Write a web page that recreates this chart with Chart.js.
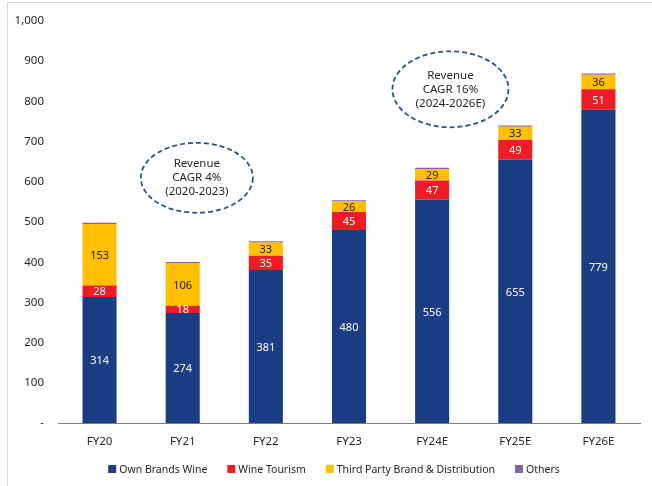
<!DOCTYPE html>
<html>
<head>
<meta charset="utf-8">
<script src="https://cdn.jsdelivr.net/npm/chart.js@4.4.1/dist/chart.umd.min.js"></script>
<style>
  html, body { margin: 0; padding: 0; background: #fff; }
  #wrap { position: relative; width: 652px; height: 486px; }
  #frame { position: absolute; left: 7px; top: 2px; right: -2px; bottom: -2px;
           border-left: 1px solid #d9d9d9; border-top: 1px solid #d9d9d9; }
  canvas { position: absolute; left: 0; top: 0; }
</style>
</head>
<body>
<div id="wrap">
  <div id="frame"></div>
  <canvas id="chart" width="652" height="486"></canvas>
</div>
<script>
// --- data ---
const years       = ['FY20', 'FY21', 'FY22', 'FY23', 'FY24E', 'FY25E', 'FY26E'];
const ownBrands   = [314, 274, 381, 480, 556, 655, 779];
const wineTourism = [28, 18, 35, 45, 47, 49, 51];
const thirdParty  = [153, 106, 33, 26, 29, 33, 36];
const others      = [3, 3, 3, 3, 3, 3, 3];
const yTicks      = [0, 100, 200, 300, 400, 500, 600, 700, 800, 900, 1000];

const FONT = '"Noto Sans", "Open Sans", sans-serif';
Chart.defaults.font.family = FONT;
Chart.defaults.color = '#262626';

// value labels in the middle of each segment
const segLabels = {
  id: 'segLabels',
  afterDatasetsDraw(chart) {
    const ctx = chart.ctx;
    ctx.save();
    ctx.font = '11px ' + FONT;
    ctx.textAlign = 'center';
    ctx.textBaseline = 'middle';
    chart.data.datasets.forEach((ds, di) => {
      if (!ds.showLabel) return;
      chart.getDatasetMeta(di).data.forEach((bar, i) => {
        const { x, y, base } = bar.getProps(['x', 'y', 'base'], true);
        ctx.fillStyle = ds.labelColor;
        ctx.fillText(ds.data[i], x, (y + base) / 2 + 1);
      });
    });
    ctx.restore();
  }
};

// dashed CAGR ellipses, placed in data coordinates
const cagrBubbles = {
  id: 'cagrBubbles',
  afterDraw(chart, args, opts) {
    const ctx = chart.ctx;
    const xs = chart.scales.x, ys = chart.scales.y;
    ctx.save();
    opts.items.forEach(it => {
      const cx = xs.getPixelForValue(it.x);
      const cy = ys.getPixelForValue(it.y);
      ctx.beginPath();
      ctx.setLineDash([5, 3]);
      ctx.lineWidth = 1.8;
      ctx.strokeStyle = '#2f5283';
      ctx.ellipse(cx, cy, it.rx, it.ry, 0, 0, Math.PI * 2);
      ctx.stroke();
      ctx.setLineDash([]);
      ctx.fillStyle = '#262626';
      ctx.font = '11.5px ' + FONT;
      ctx.textAlign = 'center';
      ctx.textBaseline = 'middle';
      it.lines.forEach((t, k) => ctx.fillText(t, cx, cy + (k - 1) * 14));
    });
    ctx.restore();
  }
};

// compact legend along the bottom
const bottomLegend = {
  id: 'bottomLegend',
  afterDraw(chart, args, opts) {
    const ctx = chart.ctx;
    const ds = chart.data.datasets;
    ctx.save();
    ctx.font = opts.fontSize + 'px ' + FONT;
    ctx.textBaseline = 'middle';
    const widths = ds.map(d => ctx.measureText(d.label).width);
    const total = widths.reduce((a, w) => a + opts.box + opts.boxGap + w, 0) + opts.itemGap * (ds.length - 1);
    let x = opts.centerX - total / 2;
    ds.forEach((d, i) => {
      ctx.fillStyle = d.backgroundColor;
      ctx.fillRect(x, opts.y - opts.box / 2, opts.box, opts.box);
      x += opts.box + opts.boxGap;
      ctx.fillStyle = '#262626';
      ctx.fillText(d.label, x, opts.y + 1);
      x += widths[i] + opts.itemGap;
    });
    ctx.restore();
  }
};

new Chart(document.getElementById('chart'), {
  type: 'bar',
  data: {
    labels: years,
    datasets: [
      { label: 'Own Brands Wine', data: ownBrands, backgroundColor: '#1b3d84',
        showLabel: true, labelColor: '#ffffff' },
      { label: 'Wine Tourism', data: wineTourism, backgroundColor: '#ee1c25',
        showLabel: true, labelColor: '#ffffff' },
      { label: 'Third Party Brand & Distribution', data: thirdParty, backgroundColor: '#ffc000',
        showLabel: true, labelColor: '#1a1a1a' },
      { label: 'Others', data: others, backgroundColor: '#8064a2' }
    ]
  },
  options: {
    responsive: false,
    animation: false,
    devicePixelRatio: 1,
    datasets: { bar: { categoryPercentage: 0.41, barPercentage: 1, borderWidth: 0 } },
    layout: { padding: { top: 18, right: 12, bottom: 25, left: 0 } },
    plugins: {
      legend: { display: false },
      tooltip: { enabled: false },
      bottomLegend: { centerX: 334, y: 469, box: 8, boxGap: 3, itemGap: 20, fontSize: 10.5 },
      cagrBubbles: {
        items: [
          { x: 1.17, y: 610, rx: 56, ry: 35, lines: ['Revenue', 'CAGR 4%', '(2020-2023)'] },
          { x: 4.22, y: 830, rx: 58, ry: 38, lines: ['Revenue', 'CAGR 16%', '(2024-2026E)'] }
        ]
      }
    },
    scales: {
      x: {
        stacked: true,
        grid: { display: false, drawTicks: false },
        border: { display: true, color: '#7f7f7f', width: 1 },
        ticks: { padding: 12, font: { size: 11.5 }, color: '#262626' }
      },
      y: {
        stacked: true,
        min: 0, max: 1000,
        afterBuildTicks: s => { s.ticks = yTicks.map(v => ({ value: v })); },
        afterFit: s => { s.width = 58; },
        grid: { display: false, drawTicks: false },
        border: { display: false },
        ticks: {
          padding: 14,
          font: { size: 11.5 },
          color: '#262626',
          callback: v => v === 0 ? '-' : v.toLocaleString('en-US')
        }
      }
    }
  },
  plugins: [segLabels, cagrBubbles, bottomLegend]
});
</script>
</body>
</html>
